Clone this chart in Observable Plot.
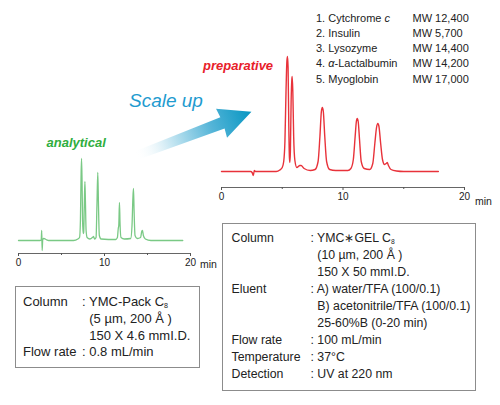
<!DOCTYPE html>
<html><head><meta charset="utf-8">
<script src="https://cdn.jsdelivr.net/npm/d3@7"></script>
<script src="https://cdn.jsdelivr.net/npm/@observablehq/plot@0.6"></script>
<style>
body{margin:0;background:#fff;}
#page{position:relative;width:500px;height:405px;overflow:hidden;font-family:"Liberation Sans",Arial,Helvetica,sans-serif;color:#222;}
.abs{position:absolute;white-space:nowrap;line-height:1;}
.box{position:absolute;border:1px solid #8c8c8c;background:#fff;box-sizing:border-box;}
sub{font-size:0.55em;vertical-align:-0.3em;line-height:0;}
.hid{visibility:hidden;}
</style></head>
<body><div id="page"></div>
<script>
// ---- data ----
const xTicksMajor = [0, 10, 20];
const xTicksMinor = [5, 15];

// analytical chromatogram: [time (min), detector signal]
const analyticalTrace = [
  [0,0],[2.5,0],[2.64,0.5],[2.7,10],[2.75,-10],[2.82,1],[2.95,2],[3.2,1],[3.5,0],
  [6.4,0],[6.9,1.5],[7.1,3],[7.2,20],[7.27,62],[7.33,82],[7.39,60],[7.45,20],[7.52,7],
  [7.58,8],[7.65,35],[7.72,59],[7.78,40],[7.86,10],[7.98,3],[8.3,1.5],[8.6,3],[8.72,4],
  [8.85,1.5],[9.02,3],[9.12,35],[9.22,68],[9.3,35],[9.4,5],[9.6,1.5],[11.3,1],[11.5,3],
  [11.6,12],[11.66,15],[11.74,38],[11.81,16],[11.92,3],[12.3,1.5],[13.05,2],[13.2,15],
  [13.3,42],[13.37,52],[13.44,30],[13.55,5],[13.8,2],[14.2,3],[14.33,9],[14.42,10],
  [14.52,5],[14.75,1.5],[15.4,0],[19.1,0]
];

// preparative chromatogram: [time (min), detector signal]
const preparativeTrace = [
  [0,0],[2.4,0],[2.52,-1],[2.62,-4],[2.7,1],[2.8,0],[4.5,0],[4.8,1.5],[5.0,4],[5.12,10],
  [5.22,30],[5.31,80],[5.38,110],[5.43,115],[5.48,104],[5.54,45],[5.59,14],[5.63,9],
  [5.67,20],[5.73,70],[5.79,92],[5.82,95],[5.87,80],[5.94,35],[6.04,11],[6.2,4],[6.45,6],
  [6.55,6],[6.8,3],[7.3,1],[7.7,2],[7.95,10],[8.1,35],[8.22,60],[8.3,64],[8.38,60],
  [8.5,35],[8.65,10],[8.9,2],[9.4,1],[10.4,1],[10.65,3],[10.85,12],[11.0,35],[11.1,50],
  [11.17,53],[11.25,50],[11.36,32],[11.5,10],[11.75,3],[12.2,2],[12.45,8],[12.62,28],
  [12.76,44],[12.87,48],[12.96,45],[13.1,28],[13.25,12],[13.42,7],[13.56,8],[13.64,9],
  [13.74,6],[13.95,2],[14.4,0.5],[15,0],[17.85,0]
];

const legendNames = ["1. Cytchrome <i>c</i>", "2. Insulin", "3. Lysozyme", "4. <i>α</i>-Lactalbumin", "5. Myoglobin"];
const legendMW = ["MW 12,400", "MW 5,700", "MW 14,400", "MW 14,200", "MW 17,000"];

const analyticalLabels = ["Column", "", "", "Flow rate"];
const analyticalValues = ["YMC-Pack C<sub>8</sub>", "(5 µm, 200 Å )", "150 X 4.6 mmI.D.", "0.8 mL/min"];

const prepLabels = ["Column", "", "", "Eluent", "", "", "Flow rate", "Temperature", "Detection"];
const prepValues = ["YMC∗GEL C<sub>8</sub>", "(10 µm, 200 Å )", "150 X 50 mmI.D.", "A) water/TFA (100/0.1)",
  "B) acetonitrile/TFA (100/0.1)", "25-60%B (0-20 min)", "100 mL/min", "37°C", "UV at 220 nm"];

const titles = {analytical: "analytical", preparative: "preparative", arrow: "Scale up", unit: "min"};

// ---- layout ----
const page = document.getElementById("page");
const FONT = '"Liberation Sans", Arial, Helvetica, sans-serif';

// arrow (decoration)
page.insertAdjacentHTML("beforeend", `
<svg width="500" height="405" style="position:absolute;left:0;top:0">
 <defs><linearGradient id="ag" x1="0" x2="1" y1="0" y2="0">
  <stop offset="0" stop-color="#ffffff" stop-opacity="0"/>
  <stop offset="0.25" stop-color="#d8eef6"/>
  <stop offset="0.65" stop-color="#56b5d8"/>
  <stop offset="1" stop-color="#0796c2"/>
 </linearGradient></defs>
 <g transform="translate(143,153) rotate(-20.8)">
  <polygon points="-8,-4.5 85,-6 84,-15.5 116,0 84,15.5 85,6 -8,4.5" fill="url(#ag)"/>
 </g>
</svg>`);

function chromPlot(trace, opts) {
  const yMin = opts.yDomain[0];
  const svg = Plot.plot({
    width: opts.width, height: opts.height,
    marginLeft: opts.ml, marginRight: opts.mr, marginTop: 0, marginBottom: opts.mb,
    x: {domain: [0, 20]},
    y: {domain: opts.yDomain, axis: null},
    style: {fontFamily: FONT, fontSize: "10px", color: "#222", background: "transparent", overflow: "visible"},
    marks: [
      Plot.ruleY([yMin], {stroke: "#666", strokeWidth: 1}),
      Plot.axisX({ticks: xTicksMajor, tickSize: 3, tickPadding: 2, stroke: "#555", tickFormat: d => d, label: null}),
      Plot.axisX({ticks: xTicksMinor, tickSize: 2, stroke: "#555", tickFormat: () => "", label: null}),
      Plot.line(trace, {x: d => d[0], y: d => d[1], stroke: opts.color, strokeWidth: opts.sw, curve: "monotone-x"})
    ]
  });
  const wrap = document.createElement("div");
  wrap.style.cssText = `position:absolute;left:${opts.left}px;top:${opts.top}px;width:${opts.width}px;height:${opts.height}px;`;
  svg.style.maxWidth = "none";
  wrap.appendChild(svg);
  page.appendChild(wrap);
}

chromPlot(analyticalTrace, {left: 0, top: 150, width: 220, height: 125, ml: 18, mr: 30, mb: 22,
  yDomain: [-13, 90], color: "#7ac985", sw: 1.3});
chromPlot(preparativeTrace, {left: 200, top: 40, width: 290, height: 170, ml: 21, mr: 26, mb: 23,
  yDomain: [-16, 131], color: "#e8323a", sw: 1.4});

function text(html, left, top, style) {
  page.insertAdjacentHTML("beforeend", `<div class="abs" style="left:${left}px;top:${top}px;${style}">${html}</div>`);
}

text(titles.analytical, 46.5, 136, "font-size:13px;font-weight:bold;font-style:italic;color:#2fae3e;");
text(titles.preparative, 203, 58.5, "font-size:13px;font-weight:bold;font-style:italic;color:#e8202a;");
text(titles.arrow, 129, 91, "font-size:19px;font-style:italic;color:#1f9bcf;");
text(titles.unit, 200, 258.5, "font-size:10.5px;color:#222;");
text(titles.unit, 475, 195.5, "font-size:10.5px;color:#222;");

legendNames.forEach((n, i) => {
  text(n, 316, 12.8 + 15.2 * i, "font-size:11px;");
  text(legendMW[i], 412.5, 12.8 + 15.2 * i, "font-size:11px;");
});

function condBox(labels, values, o) {
  page.insertAdjacentHTML("beforeend",
    `<div class="box" style="left:${o.x}px;top:${o.y}px;width:${o.w}px;height:${o.h}px;"></div>`);
  labels.forEach((lab, i) => {
    const top = o.first - o.lh / 2 + o.lh * i;
    const style = `font-size:${o.fs}px;line-height:${o.lh}px;`;
    if (lab) text(lab, o.lx, top, style);
    const prefix = lab ? ": " : '<span class="hid">: </span>';
    text(prefix + values[i], o.vx, top, style);
  });
}

condBox(analyticalLabels, analyticalValues, {x: 15, y: 286, w: 185, h: 82, first: 302.7, lh: 16.7, fs: 13, lx: 23, vx: 82});
condBox(prepLabels, prepValues, {x: 222, y: 223, w: 254, h: 168, first: 238.3, lh: 17.08, fs: 12.3, lx: 231.5, vx: 310.5});
</script>
</body></html>
